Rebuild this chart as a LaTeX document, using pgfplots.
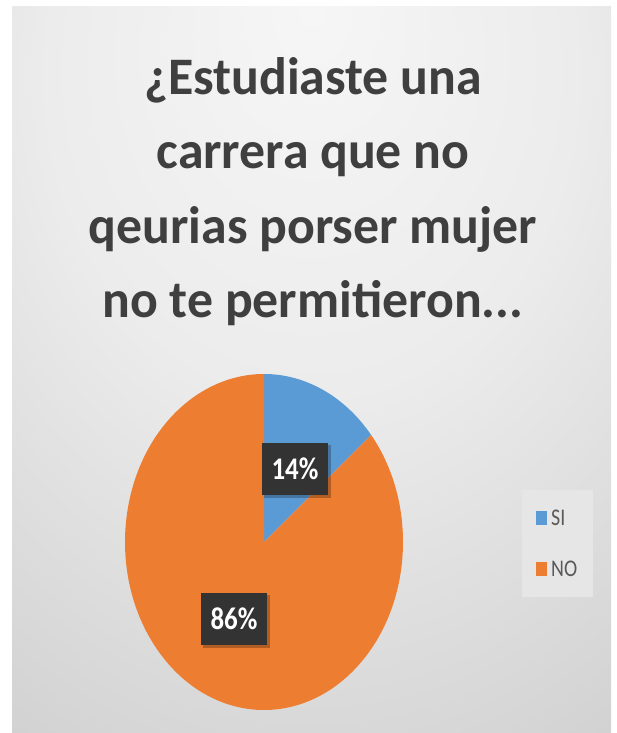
\documentclass[border=0pt]{standalone}
\usepackage{pgfplots}
\pgfplotsset{compat=1.18}
\usepackage{pgfplotstable}
\usepackage{fontspec}
\setmainfont{Carlito}

\definecolor{piesi}{HTML}{5B9BD5}
\definecolor{pieno}{HTML}{ED7D31}
\definecolor{titlegray}{HTML}{3F3F3F}
\definecolor{legtext}{HTML}{595959}
\definecolor{legfill}{HTML}{E6E6E6}
\definecolor{bgA}{HTML}{F6F6F6}
\definecolor{bgB}{HTML}{ECECEC}
\definecolor{bgC}{HTML}{CDCDCD}
\definecolor{bgD}{HTML}{C3C3C3}

\pgfdeclareradialshading{panelbg}{\pgfpoint{0bp}{25bp}}{%
  color(0bp)=(bgA); color(22bp)=(bgB); color(52bp)=(bgC); color(85bp)=(bgD); color(120bp)=(bgD)}

% share of answers, in percent
\pgfplotstableread{
label value
SI    14
NO    86
}\piedata
\pgfplotstablegetelem{0}{value}\of\piedata \let\vsi\pgfplotsretval
\pgfplotstablegetelem{1}{value}\of\piedata \let\vno\pgfplotsretval
\pgfmathsetmacro\acut{90-3.6*\vsi}

\tikzset{
  ttl/.style={anchor=base, text=titlegray, font=\fontsize{46}{50}\selectfont\bfseries,
    inner sep=0pt, xscale=1.13, yscale=1.15},
  lbl/.style={fill=black!80, text=white, minimum width=66bp, minimum height=45bp,
    inner sep=0pt, yscale=1.17, font=\fontsize{27}{30}\selectfont\bfseries},
}

\begin{document}
\begin{tikzpicture}
\begin{axis}[
  width=617bp, height=733bp, scale only axis,
  xmin=0, xmax=617, ymin=0, ymax=733,
  hide axis, clip=false,
  legend style={at={(axis cs:557.5,189.5)}, anchor=center,
    fill=legfill, draw=none,
    font=\fontsize{20}{24}\selectfont\color{legtext},
    inner xsep=14bp, inner ysep=18bp, row sep=30bp},
  legend cell align=left,
  legend image code/.code={\fill[#1] (0bp,-6bp) rectangle (10bp,7bp);},
]
% page and panel
\fill[white] (axis cs:0,0) rectangle (axis cs:617,733);
\shade[shading=panelbg] (axis cs:12,0) rectangle (axis cs:611,726);

% title
\node[ttl] at (axis cs:313,638) {¿Estudiaste una};
\node[ttl] at (axis cs:313,564) {carrera que no};
\node[ttl] at (axis cs:313,489) {qeurias porser mujer};
\node[ttl] at (axis cs:313,415) {no te permitieron...};

% pie (ellipse, centre 264/191, radii 139 x 168)
\fill[piesi] (axis cs:264,191) -- (axis cs:264,359)
   arc[start angle=90, end angle=\acut, x radius=139bp, y radius=168bp] -- cycle;
\fill[pieno] (axis cs:264,191) -- ++(\acut:139bp and 168bp)
   arc[start angle=\acut, end angle=-270, x radius=139bp, y radius=168bp] -- cycle;

% data labels
\fill[black, opacity=0.25] (axis cs:264,235) rectangle (axis cs:331,288);
\node[lbl] at (axis cs:295,264) {\vsi\%};
\fill[black, opacity=0.25] (axis cs:203,85) rectangle (axis cs:270,138);
\node[lbl] at (axis cs:234,114) {\vno\%};

\addlegendimage{piesi}
\addlegendentry{\hspace{3bp}\scalebox{1}[1.2]{SI}}
\addlegendimage{pieno}
\addlegendentry{\hspace{3bp}\scalebox{1}[1.2]{NO}}
\end{axis}
\end{tikzpicture}
\end{document}
